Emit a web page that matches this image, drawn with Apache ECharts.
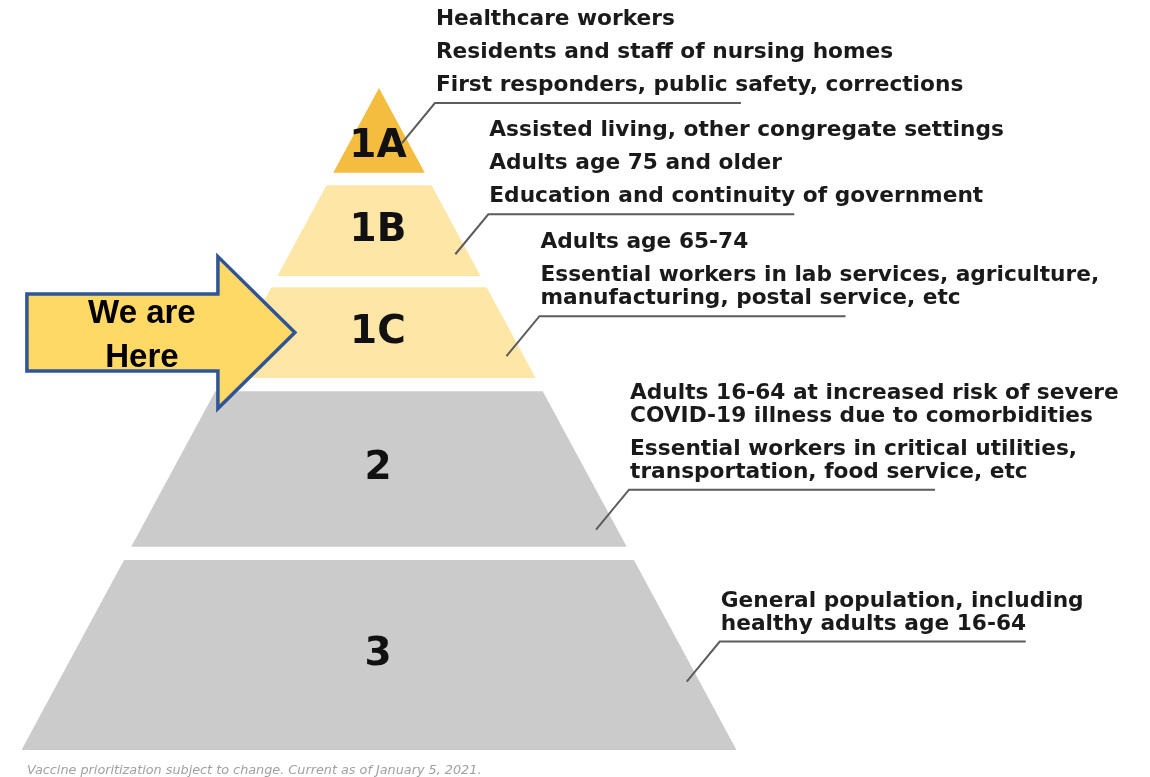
<!DOCTYPE html>
<html>
<head>
<meta charset="utf-8">
<title>COVID-19 vaccine prioritization</title>
<script src="https://cdn.jsdelivr.net/npm/echarts@6/dist/echarts.min.js"></script>
<style>
  html, body { margin: 0; padding: 0; background: #fff; }
  #main { width: 1150px; height: 777px; }
</style>
</head>
<body>
<div id="main"></div>
<script>
// phases, top to bottom
const tiers = ["1A", "1B", "1C", "2", "3"];
// where each tier starts / ends, in % of the pyramid height measured from the apex
const tierTop = [0, 14.7, 30.1, 45.8, 71.3];
const tierBottom = [12.8, 28.4, 43.8, 69.3, 100];
// who is in each phase ("\n" = wrapped line)
const tierGroups = [
  ["Healthcare workers", "Residents and staff of nursing homes", "First responders, public safety, corrections"],
  ["Assisted living, other congregate settings", "Adults age 75 and older", "Education and continuity of government"],
  ["Adults age 65-74", "Essential workers in lab services, agriculture,\nmanufacturing, postal service, etc"],
  ["Adults 16-64 at increased risk of severe\nCOVID-19 illness due to comorbidities", "Essential workers in critical utilities,\ntransportation, food service, etc"],
  ["General population, including\nhealthy adults age 16-64"]
];
const currentTier = "1C";
const arrowText = "We are\nHere";
const footnote = "Vaccine prioritization subject to change. Current as of January 5, 2021.";

const tierColors = ["#f5bd40", "#fde6a6", "#fde6a6", "#cbcbcb", "#cbcbcb"];
// leader line start: [fraction of local half width, fraction of tier height]
const leaderStart = [[0.77, 0.65], [0.85, 0.76], [0.88, 0.76], [0.91, 0.89], [0.96, 0.64]];

const chartDom = document.getElementById("main");
const myChart = echarts.init(chartDom);

const tierData = tiers.map((t, i) => [i, tierTop[i], tierBottom[i]]);
const cur = tiers.indexOf(currentTier);

function renderTier(params, api) {
  const i = params.dataIndex;
  const d1 = api.value(1);
  const d2 = api.value(2);
  const p = (x, d) => api.coord([x, d]);
  const hw = (d) => d / 100; // pyramid half width grows with depth
  const children = [];

  children.push({
    type: "polygon",
    shape: { points: [p(-hw(d1), d1), p(hw(d1), d1), p(hw(d2), d2), p(-hw(d2), d2)] },
    style: { fill: tierColors[i] },
  });

  // big tier name (the top triangle has its label lower down)
  const labelDepth = d1 === 0 ? d1 + (d2 - d1) * 0.7 : (d1 + d2) / 2;
  const lp = p(0, labelDepth);
  children.push({
    type: "text",
    x: lp[0] - 1,
    y: lp[1],
    style: {
      text: tiers[i],
      font: 'bold 39px "DejaVu Sans"',
      fill: "#111",
      align: "center",
      verticalAlign: "middle",
    },
  });

  // leader line
  const sd = d1 + (d2 - d1) * leaderStart[i][1];
  const s = p(hw(sd) * leaderStart[i][0], sd);
  const e = [s[0] + 33, s[1] - 40];
  const end = [e[0] + 306, e[1]];
  children.push({
    type: "polyline",
    shape: { points: [s, e, end] },
    style: { stroke: "#5c5c5c", lineWidth: 2, fill: null },
  });

  // annotation text, stacked upward from the line
  let bottom = e[1] - 6;
  const items = tierGroups[i];
  for (let k = items.length - 1; k >= 0; k--) {
    const n = items[k].split("\n").length;
    children.push({
      type: "text",
      x: e[0] + 1,
      y: bottom,
      style: {
        text: items[k],
        font: 'bold 21.7px "DejaVu Sans"',
        fill: "#1a1a1a",
        align: "left",
        verticalAlign: "bottom",
        lineHeight: 23,
      },
    });
    bottom -= n * 23 + 10;
  }

  return { type: "group", children };
}

function renderArrow(params, api) {
  const d1 = api.value(1);
  const d2 = api.value(2);
  const mid = (d1 + d2) / 2;
  const edge = api.coord([-mid / 100, mid]);
  const tx = edge[0] + 48;
  const ty = edge[1];
  return {
    type: "group",
    children: [
      {
        type: "polygon",
        shape: {
          points: [
            [tx, ty],
            [tx - 77, ty - 76],
            [tx - 77, ty - 38.5],
            [tx - 268, ty - 38.5],
            [tx - 268, ty + 38.5],
            [tx - 77, ty + 38.5],
            [tx - 77, ty + 76],
          ],
        },
        style: { fill: "#ffd966", stroke: "#2f5597", lineWidth: 3.5, lineJoin: "miter" },
      },
      {
        type: "text",
        x: tx - 153,
        y: ty + 3,
        style: {
          text: arrowText,
          font: 'bold 33px "Liberation Sans"',
          fill: "#000",
          align: "center",
          verticalAlign: "middle",
          lineHeight: 44,
        },
      },
    ],
  };
}

const option = {
  animation: false,
  backgroundColor: "#fff",
  title: {
    text: footnote,
    left: 22,
    top: 759,
    textStyle: {
      fontFamily: "DejaVu Sans",
      fontSize: 12.8,
      fontStyle: "italic",
      fontWeight: "normal",
      color: "#a0a0a0",
    },
  },
  grid: { left: 21.5, right: 413.5, top: 88, bottom: 27 },
  xAxis: { type: "value", min: -1, max: 1, show: false },
  yAxis: { type: "value", min: 0, max: 100, inverse: true, show: false },
  series: [
    {
      type: "custom",
      renderItem: renderTier,
      data: tierData,
      z: 2,
    },
    {
      type: "custom",
      renderItem: renderArrow,
      data: [tierData[cur]],
      z: 5,
    },
  ],
};

option && myChart.setOption(option);
</script>
</body>
</html>
